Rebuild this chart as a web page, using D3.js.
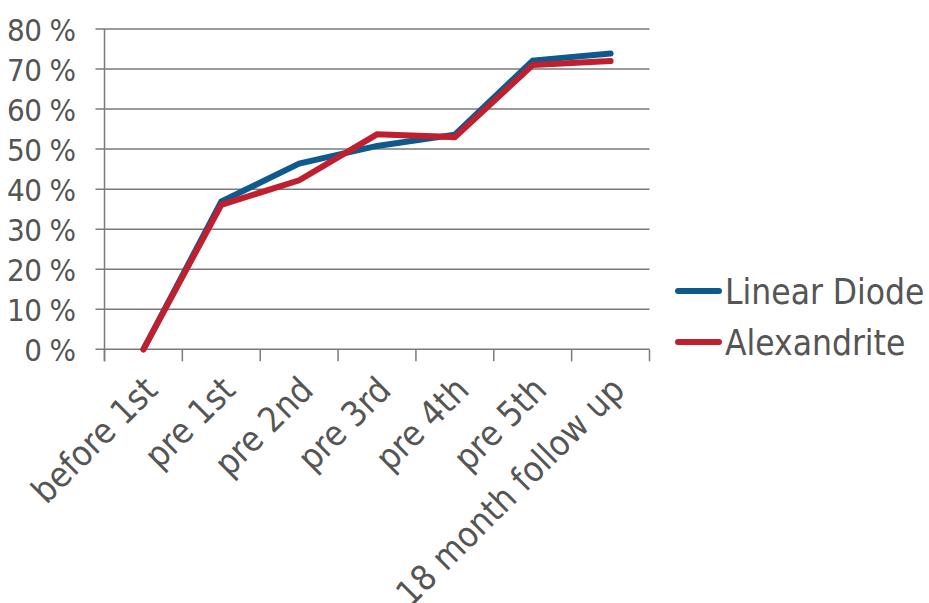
<!DOCTYPE html>
<html>
<head>
<meta charset="utf-8">
<script src="https://d3js.org/d3.v7.min.js"></script>
<style>
html,body{margin:0;padding:0;background:#fff;}
svg{display:block;}
text{font-family:"DejaVu Sans Condensed","DejaVu Sans",sans-serif;font-stretch:condensed;fill:#555;}
</style>
</head>
<body>
<svg id="chart" width="929" height="603"></svg>
<script>
const categories = ["before 1st","pre 1st","pre 2nd","pre 3rd","pre 4th","pre 5th","18 month follow up"];
const linearDiode = [0, 36.9, 46.4, 50.8, 53.6, 72.1, 73.9];
const alexandrite = [0, 36.1, 42.2, 53.7, 53.0, 71.0, 72.0];
const yTicks = [0,10,20,30,40,50,60,70,80];
const seriesNames = ["Linear Diode","Alexandrite"];
const seriesColors = ["#0f5a8c","#c01f2f"];

(function(){
const svg = d3.select("#chart");
const pL = 104.5, pR = 649.5, pT = 29, pB = 349.3;

const x = d3.scaleBand().domain(categories).range([pL, pR]).padding(0);
const y = d3.scaleLinear().domain([0, 80]).range([pB, pT]);

// gridlines
svg.append("g").selectAll("line").data(yTicks).join("line")
  .attr("x1", pL - 9).attr("x2", pR)
  .attr("y1", d => y(d)).attr("y2", d => y(d))
  .attr("stroke", "#7a7a7a").attr("stroke-width", 1.5);

// y axis line
svg.append("line").attr("x1", pL).attr("x2", pL).attr("y1", pT).attr("y2", pB + 12)
  .attr("stroke", "#7a7a7a").attr("stroke-width", 1.5);

// y labels
const yAxis = d3.axisLeft(y).tickValues(yTicks).tickSize(0).tickPadding(0).tickFormat(d => d + " %");
const gy = svg.append("g").attr("transform", `translate(${pL - 29},0)`).call(yAxis);
gy.select(".domain").remove();
gy.selectAll("text").attr("font-size", 31).attr("letter-spacing", "-0.6").attr("fill", "#555")
  .style("font-family", '"DejaVu Sans Condensed","DejaVu Sans",sans-serif').attr("dy", "0.36em");

// x ticks at band boundaries
const bounds = categories.map(c => x(c)).concat([pR]);
svg.append("g").selectAll("line").data(bounds).join("line")
  .attr("x1", d => d).attr("x2", d => d).attr("y1", pB).attr("y2", pB + 12)
  .attr("stroke", "#7a7a7a").attr("stroke-width", 1.5);

// x labels
svg.append("g").selectAll("text").data(categories).join("text")
  .attr("transform", d => `translate(${x(d) + x.bandwidth()/2 + 16},${392}) rotate(-45)`)
  .attr("text-anchor", "end")
  .attr("font-size", 35)
  .text(d => d);

// lines
const line = d3.line().x((d, i) => x(categories[i]) + x.bandwidth()/2).y(d => y(d));
[linearDiode, alexandrite].forEach((s, k) => {
  svg.append("path").datum(s).attr("d", line)
    .attr("fill", "none").attr("stroke", seriesColors[k]).attr("stroke-width", 6)
    .attr("stroke-linecap", "round").attr("stroke-linejoin", "miter");
});

// legend
const lg = svg.append("g");
seriesNames.forEach((n, k) => {
  const ly = 291 + k * 51;
  lg.append("line").attr("x1", 678).attr("x2", 719).attr("y1", ly).attr("y2", ly)
    .attr("stroke", seriesColors[k]).attr("stroke-width", 6).attr("stroke-linecap", "round");
  lg.append("text").attr("x", 725).attr("y", ly).attr("dy", "0.36em")
    .attr("font-size", 35).text(n);
});
})();
</script>
</body>
</html>
